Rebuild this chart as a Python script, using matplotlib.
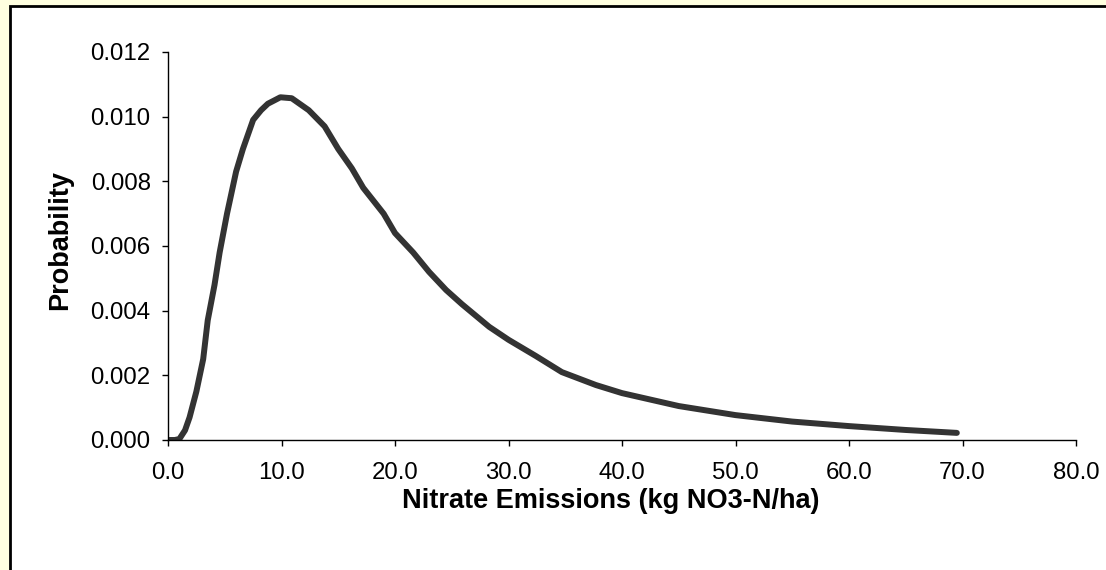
import numpy as np
import matplotlib.pyplot as plt
from matplotlib.patches import Rectangle

plt.rcParams['font.family'] = ['Liberation Sans', 'DejaVu Sans']

# values
emissions = [0.0, 0.6, 1.0, 1.5, 1.9, 2.5, 3.1, 3.5, 4.1, 4.55, 5.2, 6.0, 6.6, 7.5, 8.2,
             8.8, 9.9, 10.9, 12.4, 13.8, 15.0, 16.2, 17.2, 19.0, 20.0, 21.6, 23.0,
             24.5, 25.9, 28.3, 30.0, 32.4, 34.7, 37.7, 40.0, 45.0, 50.0, 55.0,
             60.0, 65.0, 69.5]
probability = [0.0, 0.0, 0.00003, 0.0003, 0.0007, 0.0015, 0.0025, 0.0037, 0.0048, 0.0058,
               0.0070, 0.0083, 0.0090, 0.0099, 0.0102, 0.0104, 0.0106, 0.01057,
               0.0102, 0.0097, 0.0090, 0.0084, 0.0078, 0.0070, 0.0064, 0.0058,
               0.0052, 0.00464, 0.0042, 0.0035, 0.0031, 0.0026, 0.0021, 0.0017,
               0.00145, 0.00105, 0.00077, 0.00057, 0.00043, 0.00031, 0.00022]

x_ticks = np.arange(0, 81, 10)
y_ticks = np.arange(0, 0.0121, 0.002)

W, H = 1106, 570
fig = plt.figure(figsize=(W / 100, H / 100), dpi=100)
fig.patch.set_facecolor('#ffffe0')

# white chart area with black border on left/top (runs off the right and bottom)
fig.patches.append(Rectangle((10 / W, -0.05), 1.2, 1 - 6 / H + 0.05,
                             transform=fig.transFigure, facecolor='white',
                             edgecolor='black', linewidth=2, zorder=-10))

ax = fig.add_axes([168 / W, 1 - 440 / H, (1076 - 168) / W, (440 - 52) / H])
ax.set_zorder(5)
ax.set_facecolor('none')
ax.plot(emissions, probability, color='#333333', linewidth=4.3,
        solid_capstyle='round', solid_joinstyle='round')

ax.set_xlim(0, 80)
ax.set_ylim(0, 0.012)
ax.set_xticks(x_ticks)
ax.set_xticklabels(['%.1f' % v for v in x_ticks])
ax.set_yticks(y_ticks)
ax.set_yticklabels(['%.3f' % v for v in y_ticks])
ax.tick_params(direction='out', length=4.5, width=1, labelsize=17.3, color='black')
ax.tick_params(axis='y', pad=8)
ax.tick_params(axis='x', pad=11)

for s in ['top', 'right']:
    ax.spines[s].set_visible(False)
for s in ['left', 'bottom']:
    ax.spines[s].set_color('black')
    ax.spines[s].set_linewidth(1)

ax.set_xlabel('Nitrate Emissions (kg NO3-N/ha)', fontsize=19.5, fontweight='bold')
ax.set_ylabel('Probability', fontsize=19.5, fontweight='bold')
ax.xaxis.label.set_va('center')
ax.yaxis.label.set_va('center')
ax.yaxis.label.set_ha('center')
ax.xaxis.set_label_coords(611 / W, 1 - 501 / H, transform=fig.transFigure)
ax.yaxis.set_label_coords(60 / W, 1 - 240 / H, transform=fig.transFigure)

fig.savefig('out.png', dpi=100, facecolor=fig.get_facecolor())
